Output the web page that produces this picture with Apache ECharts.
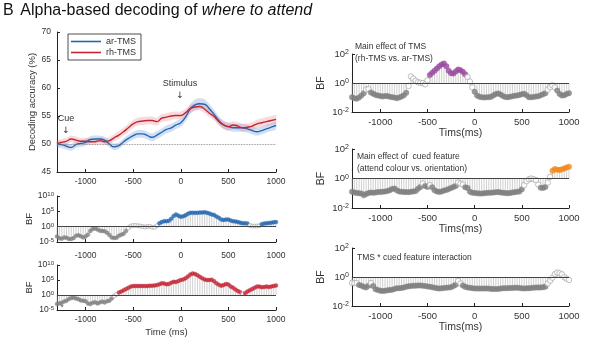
<!DOCTYPE html>
<html><head><meta charset="utf-8">
<script src="https://cdn.jsdelivr.net/npm/echarts@6/dist/echarts.min.js"></script>
<style>html,body{margin:0;padding:0;background:#fff}#c{width:591px;height:343px}</style>
</head><body><div id="c"></div>
<script>
// ---------- data ----------
const lineTimes = [-1300,-1250,-1200,-1150,-1100,-1050,-1000,-950,-900,-850,
  -800,-750,-700,-650,-600,-550,-500,-450,-400,-350,
  -300,-250,-200,-150,-100,-50,0,50,100,150,
  200,250,300,350,400,450,500,550,600,650,
  700,750,800,850,900,950,1000];
const arTMS = [50.0,49.9,49.6,49.4,49.9,50.1,50.3,50.8,50.9,50.9,
  50.7,50.0,49.5,49.7,50.4,51.0,51.5,51.8,51.8,51.5,
  51.2,51.6,52.1,52.6,52.9,53.4,53.8,54.8,56.3,57.0,
  57.2,57.1,56.3,55.3,54.2,53.4,53.1,52.9,52.9,52.9,
  52.7,52.4,52.2,52.4,52.7,53.0,53.3];
const rhTMS = [50.1,50.3,50.5,50.9,50.7,50.5,50.5,50.4,50.4,50.6,
  50.4,50.6,51.1,51.6,52.2,52.9,53.6,54.0,54.1,54.2,
  54.2,54.0,54.6,54.8,55.0,55.1,55.1,55.6,56.3,56.6,
  56.7,56.2,55.5,54.9,54.0,53.4,53.1,53.4,53.2,52.9,
  53.0,53.2,53.6,53.8,54.0,54.2,54.4];
const arSE = [0.6,0.6,0.6,0.6,0.6,0.6,0.6,0.6,0.6,0.6,
  0.6,0.6,0.6,0.6,0.6,0.65,0.7,0.7,0.7,0.7,
  0.7,0.7,0.7,0.7,0.7,0.7,0.75,0.8,0.9,0.95,
  0.95,0.9,0.85,0.8,0.75,0.7,0.7,0.7,0.7,0.7,
  0.7,0.7,0.7,0.7,0.7,0.7,0.7];
const rhSE = [0.6,0.6,0.6,0.6,0.6,0.6,0.6,0.6,0.6,0.6,
  0.6,0.6,0.65,0.7,0.7,0.7,0.7,0.7,0.7,0.7,
  0.7,0.7,0.7,0.7,0.7,0.7,0.7,0.7,0.7,0.7,
  0.7,0.7,0.7,0.7,0.7,0.7,0.7,0.7,0.7,0.7,
  0.7,0.7,0.75,0.75,0.8,0.8,0.8];

const bfTimes = [-1300,-1275,-1250,-1225,-1200,-1175,-1150,-1125,-1100,-1075,
  -1050,-1025,-1000,-975,-950,-925,-900,-875,-850,-825,
  -800,-775,-750,-725,-700,-675,-650,-625,-600,-575,
  -550,-525,-500,-475,-450,-425,-400,-375,-350,-325,
  -300,-275,-250,-225,-200,-175,-150,-125,-100,-75,
  -50,-25,0,25,50,75,100,125,150,175,
  200,225,250,275,300,325,350,375,400,425,
  450,475,500,525,550,575,600,625,650,675,
  700,725,750,775,800,825,850,875,900,925,
  950,975,1000];
// Bayes factors, stored as log10(BF)
const bfAr = [-3.2,-3.8,-3.9,-3.5,-3.6,-4.0,-4.0,-3.7,-3.0,-2.8,
  -3.1,-3.5,-3.2,-2.6,-1.4,-0.8,-0.6,-0.9,-1.3,-1.4,
  -1.5,-2.0,-2.7,-3.5,-3.7,-3.6,-3.0,-2.6,-2.3,-1.4,
  -0.4,0.2,0.4,0.4,0.3,0.2,0.0,-0.1,0.1,0.1,
  -0.2,-0.2,0.3,1.1,1.5,1.8,1.8,1.9,2.6,3.5,
  4.0,3.6,3.2,3.4,3.7,4.2,4.5,4.5,4.5,4.5,
  4.6,4.6,4.7,4.5,4.3,4.0,3.8,3.3,2.9,2.3,
  2.2,2.3,2.3,2.0,1.8,1.7,1.5,1.3,1.1,1.1,
  1.0,0.4,0.2,0.2,0.2,0.3,0.8,1.0,1.1,1.2,
  1.3,1.4,1.5];
const bfRh = [-3.0,-2.8,-2.6,-2.2,-1.9,-1.3,-1.0,-0.9,-1.2,-1.4,
  -1.8,-1.9,-2.1,-2.8,-3.0,-2.6,-2.4,-2.8,-2.5,-2.2,
  -2.5,-2.1,-1.9,-1.2,-0.3,0.2,0.8,1.2,1.6,2.0,
  2.4,2.8,3.0,3.0,3.0,3.0,3.0,3.0,3.0,3.1,
  3.1,3.2,3.3,3.6,3.9,3.8,3.6,3.7,4.1,4.4,
  4.3,4.7,5.0,5.2,5.6,6.2,6.8,7.2,7.0,6.6,
  6.1,5.6,5.2,5.0,5.0,5.1,4.6,3.9,3.4,3.1,
  3.3,3.7,3.5,2.8,2.4,1.8,1.3,0.9,0.4,0.6,
  1.2,1.6,2.0,2.4,2.8,2.8,2.6,2.7,2.8,2.7,
  2.8,3.0,3.2];
const bfTMS = [-0.98,-1.05,-1.09,-1.0,-0.86,-0.7,-0.45,-0.42,-0.65,-0.74,
  -0.82,-0.86,-0.9,-0.93,-0.9,-0.9,-0.95,-0.98,-1.0,-1.05,
  -1.0,-0.93,-0.85,-0.67,-0.2,0.45,0.3,0.15,0.05,0.02,
  0.0,-0.09,0.19,0.55,0.7,0.85,1.0,1.15,1.28,1.35,
  1.15,0.85,0.68,0.65,0.8,0.93,0.88,0.77,0.6,0.42,
  0.1,-0.3,-0.6,-0.86,-0.95,-0.98,-1.0,-0.98,-0.98,-0.95,
  -0.85,-0.76,-0.72,-0.8,-0.9,-0.97,-0.98,-0.95,-0.92,-0.88,
  -0.86,-0.82,-0.78,-0.74,-0.85,-0.98,-0.98,-0.96,-0.93,-0.92,
  -0.85,-0.78,-0.70,-0.45,-0.28,-0.16,-0.3,-0.51,-0.75,-0.86,
  -0.85,-0.75,-0.7];
const bfFeature = [-0.9,-0.95,-0.98,-1.0,-1.02,-1.14,-1.05,-0.98,-0.95,-0.97,
  -0.95,-0.92,-0.92,-0.9,-0.88,-0.85,-0.8,-0.72,-0.68,-0.8,
  -0.88,-0.9,-0.92,-0.92,-0.93,-0.9,-0.88,-0.85,-0.7,-0.57,
  -0.34,-0.5,-0.57,-0.45,-0.6,-0.8,-0.88,-0.91,-0.88,-0.82,
  -0.78,-0.72,-0.64,-0.58,-0.5,-0.27,-0.35,-0.41,-0.6,-0.64,
  -0.9,-0.96,-0.98,-1.0,-1.02,-1.02,-1.0,-0.98,-0.97,-0.96,
  -0.95,-0.93,-0.92,-0.95,-0.97,-0.98,-1.0,-0.98,-0.95,-0.93,
  -0.9,-0.88,-0.73,-0.45,-0.18,-0.05,0.0,-0.05,-0.11,-0.41,
  -0.62,-0.64,-0.57,-0.27,0.11,0.52,0.64,0.6,0.57,0.62,
  0.68,0.74,0.8];
const bfInteraction = [-0.4,-0.42,-0.42,-0.55,-0.6,-0.68,-0.72,-0.6,-0.42,-0.62,
  -0.85,-0.9,-0.95,-0.97,-0.95,-0.92,-0.9,-0.88,-0.82,-0.78,
  -0.77,-0.75,-0.72,-0.68,-0.64,-0.62,-0.6,-0.6,-0.58,-0.59,
  -0.6,-0.62,-0.65,-0.67,-0.7,-0.74,-0.78,-0.79,-0.78,-0.76,
  -0.74,-0.72,-0.7,-0.62,-0.54,-0.28,-0.45,-0.59,-0.68,-0.72,
  -0.74,-0.77,-0.79,-0.79,-0.8,-0.8,-0.79,-0.79,-0.8,-0.82,
  -0.82,-0.83,-0.82,-0.8,-0.78,-0.77,-0.77,-0.76,-0.75,-0.74,
  -0.74,-0.76,-0.78,-0.79,-0.78,-0.77,-0.76,-0.74,-0.73,-0.72,
  -0.72,-0.7,-0.67,-0.44,-0.25,-0.05,0.2,0.31,0.26,0.18,
  -0.02,-0.12,-0.2];
const xTicks = [-1000,-500,0,500,1000];
const seriesNames = ['ar-TMS','rh-TMS'];

// ---------- styling ----------
const FONT = 'Liberation Sans';
const AX = '#222', TXT = '#333';
const BLUE = '#2467b0', RED = '#c42634', PURPLE = '#9a4b9f', ORANGE = '#f08a1e', GRAY = '#808080';

const grids = [
  {left:57, top:32, width:219, height:140},   // 0 accuracy
  {left:57, top:196, width:219, height:46},   // 1 BF ar
  {left:57, top:265, width:219, height:45},   // 2 BF rh
  {left:352, top:54, width:217, height:58},   // 3 TMS
  {left:352, top:149, width:217, height:59},  // 4 feature
  {left:352, top:248, width:217, height:58}   // 5 interaction
];

function xAxisFor(gi, fs, name, gap, margin){
  return {type:'value', gridIndex:gi, min:-1300, max:1000,
    axisLine:{show:true, onZero:false, lineStyle:{color:AX, width:1}},
    axisTick:{show:true, inside:true, length:3, customValues:xTicks, lineStyle:{color:AX}},
    axisLabel:{customValues:xTicks, formatter:v=>String(v), fontSize:fs, color:TXT, fontFamily:FONT, margin:margin||5},
    splitLine:{show:false},
    name:name||'', nameLocation:'middle', nameGap:gap||0,
    nameTextStyle:{fontSize:fs+1, color:TXT, fontFamily:FONT}};
}
function powLabel(v){
  const e = Math.round(Math.log10(v));
  return '{b|10}{s|' + e + '}';
}
function logAxisFor(gi, lo, hi, step, fs, gap){
  return {type:'log', logBase:10, gridIndex:gi, min:Math.pow(10,lo), max:Math.pow(10,hi), interval:step,
    axisLine:{show:true, onZero:false, lineStyle:{color:AX, width:1}},
    axisTick:{show:true, inside:true, length:3, lineStyle:{color:AX}},
    axisLabel:{formatter:powLabel, margin:3, rich:{
      b:{fontSize:fs, color:TXT, fontFamily:FONT},
      s:{fontSize:fs-2.5, color:TXT, fontFamily:FONT, verticalAlign:'top', lineHeight:fs-1}}},
    splitLine:{show:false},
    name:'BF', nameLocation:'middle', nameGap:gap, nameRotate:90,
    nameTextStyle:{fontSize:fs+1, color:TXT, fontFamily:FONT}};
}

function stemSeries(xi, vals){
  return {type:'custom', xAxisIndex:xi, yAxisIndex:xi, silent:true, z:1,
    data: bfTimes.map((t,i)=>[t, Math.pow(10, vals[i])]),
    renderItem:(params, api)=>{
      const p0 = api.coord([api.value(0), 1]);
      const p1 = api.coord([api.value(0), api.value(1)]);
      return {type:'line', shape:{x1:p0[0], y1:p0[1], x2:p1[0], y2:p1[1]},
        style:{stroke:'#bcbcbc', lineWidth:0.7}};
    },
    markLine:{silent:true, symbol:'none', label:{show:false}, animation:false,
      lineStyle:{color:'#444', width:1, type:'solid'}, data:[{yAxis:1}]}};
}
function dotSeries(xi, vals, color, size){
  return {type:'scatter', xAxisIndex:xi, yAxisIndex:xi, z:3, symbolSize:size, silent:true,
    data: bfTimes.map((t,i)=>{
      const v = vals[i]; let st;
      if (v > 0.477) st = {color:color, borderColor:color, borderWidth:0.4};
      else if (v < -0.477) st = {color:GRAY, borderColor:GRAY, borderWidth:0.4};
      else st = {color:'#fff', borderColor:'#9c9c9c', borderWidth:0.8};
      return {value:[t, Math.pow(10, v)], itemStyle:st};
    })};
}
function bandSeries(mean, se, fill){
  return {type:'custom', xAxisIndex:0, yAxisIndex:0, silent:true, z:1,
    data:[[lineTimes[0], mean[0]]],
    renderItem:(params, api)=>{
      const up = lineTimes.map((t,i)=>api.coord([t, mean[i] + se[i]]));
      const lo = lineTimes.map((t,i)=>api.coord([t, mean[i] - se[i]])).reverse();
      return {type:'polygon', shape:{points:up.concat(lo), smooth:0.25}, style:{fill:fill}};
    }};
}

const option = {
  animation:false,
  backgroundColor:'#fff',
  textStyle:{fontFamily:FONT},
  grid: grids,
  legend:{data:seriesNames, orient:'vertical', left:68, top:34, itemGap:2, itemWidth:30, itemHeight:1.6, icon:'rect',
    padding:[3,5,3,3], borderColor:'#222', borderWidth:0.8, backgroundColor:'#fff',
    textStyle:{fontSize:9, color:TXT, fontFamily:FONT}},
  xAxis:[
    xAxisFor(0, 8.5),
    xAxisFor(1, 8.5, '', 0, 9),
    xAxisFor(2, 8.5, 'Time (ms)', 17),
    xAxisFor(3, 9.5, 'Tims(ms)', 16),
    xAxisFor(4, 9.5, 'Tims(ms)', 16),
    xAxisFor(5, 9.5, 'Tims(ms)', 16)
  ],
  yAxis:[
    {type:'value', gridIndex:0, min:45, max:70, interval:5,
      axisLine:{show:true, onZero:false, lineStyle:{color:AX, width:1}},
      axisTick:{show:true, inside:true, length:3, lineStyle:{color:AX}},
      axisLabel:{fontSize:8.5, color:TXT, fontFamily:FONT, margin:6},
      splitLine:{show:false},
      name:'Decoding accuracy (%)', nameLocation:'middle', nameGap:19, nameRotate:90,
      nameTextStyle:{fontSize:9.5, color:TXT, fontFamily:FONT}},
    logAxisFor(1, -5, 10, 5, 8.5, 21),
    logAxisFor(2, -5, 10, 5, 8.5, 21),
    logAxisFor(3, -2, 2, 2, 9.5, 25),
    logAxisFor(4, -2, 2, 2, 9.5, 25),
    logAxisFor(5, -2, 2, 2, 9.5, 25)
  ],
  series:[
    bandSeries(arTMS, arSE, 'rgba(90,140,215,0.28)'),
    bandSeries(rhTMS, rhSE, 'rgba(230,110,120,0.25)'),
    {type:'line', name:seriesNames[0], xAxisIndex:0, yAxisIndex:0, symbol:'none', smooth:true,
      data:arTMS.map((v,i)=>[lineTimes[i], v]), color:BLUE, lineStyle:{color:BLUE, width:1.4}, z:3,
      markLine:{silent:true, symbol:'none', label:{show:false}, lineStyle:{color:'#777', width:0.8, type:'dotted'},
        data:[{yAxis:50}]}},
    {type:'line', name:seriesNames[1], xAxisIndex:0, yAxisIndex:0, symbol:'none', smooth:true,
      data:rhTMS.map((v,i)=>[lineTimes[i], v]), color:RED, lineStyle:{color:RED, width:1.4}, z:3},
    stemSeries(1, bfAr), dotSeries(1, bfAr, BLUE, 4),
    stemSeries(2, bfRh), dotSeries(2, bfRh, RED, 4),
    stemSeries(3, bfTMS), dotSeries(3, bfTMS, PURPLE, 5.5),
    stemSeries(4, bfFeature), dotSeries(4, bfFeature, ORANGE, 5.5),
    stemSeries(5, bfInteraction), dotSeries(5, bfInteraction, GRAY, 5.5)
  ],
  graphic:[
    {type:'text', left:3, top:3, style:{text:'{n|B}  {a|Alpha-based decoding of }{i|where to attend}',
      rich:{n:{fontSize:16, fill:'#111', fontFamily:FONT}, a:{fontSize:16, fill:'#111', fontFamily:FONT},
        i:{fontSize:16, fill:'#111', fontFamily:FONT, fontStyle:'italic'}}}},
    {type:'text', x:180, y:84, style:{text:'Stimulus', fontSize:9, fill:TXT, fontFamily:FONT, align:'center', verticalAlign:'middle'}},
    {type:'text', x:180, y:96, style:{text:'↓', fontSize:9, fill:TXT, fontFamily:'DejaVu Sans', align:'center', verticalAlign:'middle'}},
    {type:'text', x:66, y:119, style:{text:'Cue', fontSize:9, fill:TXT, fontFamily:FONT, align:'center', verticalAlign:'middle'}},
    {type:'text', x:66, y:131, style:{text:'↓', fontSize:9, fill:TXT, fontFamily:'DejaVu Sans', align:'center', verticalAlign:'middle'}},
    {type:'text', x:62, y:308, style:{text:'*', fontSize:9, fill:'#666', fontFamily:FONT, align:'center', verticalAlign:'middle'}},
    {type:'text', x:355, y:47, style:{text:'Main effect of TMS', fontSize:8.5, fill:TXT, fontFamily:FONT, verticalAlign:'middle'}},
    {type:'text', x:355, y:59, style:{text:'(rh-TMS vs. ar-TMS)', fontSize:8.5, fill:TXT, fontFamily:FONT, verticalAlign:'middle'}},
    {type:'text', x:357, y:157, style:{text:'Main effect of  cued feature', fontSize:8.5, fill:TXT, fontFamily:FONT, verticalAlign:'middle'}},
    {type:'text', x:357, y:169, style:{text:'(attend colour vs. orientation)', fontSize:8.5, fill:TXT, fontFamily:FONT, verticalAlign:'middle'}},
    {type:'text', x:357, y:258, style:{text:'TMS * cued feature interaction', fontSize:8.5, fill:TXT, fontFamily:FONT, verticalAlign:'middle'}}
  ]
};
const chart = echarts.init(document.getElementById('c'), null, {renderer:'canvas'});
chart.setOption(option);
</script></body></html>
